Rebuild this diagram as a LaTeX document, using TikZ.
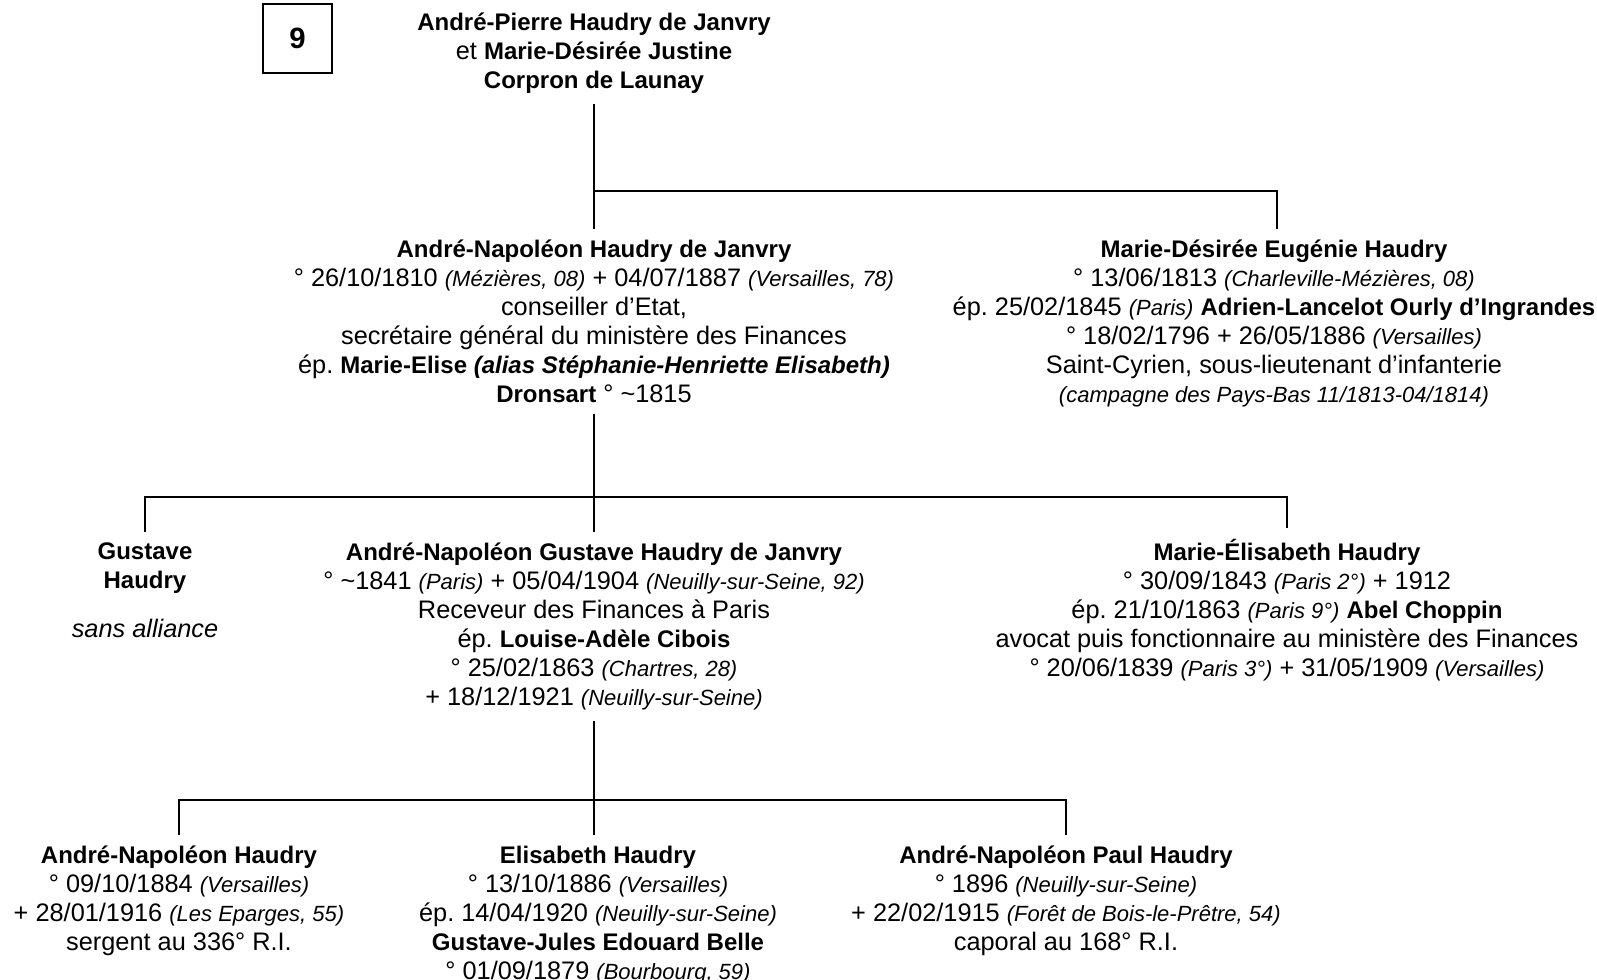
\documentclass[tikz,border=0pt]{standalone}
\usepackage{fontspec}
\setmainfont{Liberation Sans}
\frenchspacing
\newcommand{\nom}[1]{{\fontsize{18}{21.75}\selectfont\bfseries #1}}
\newcommand{\lieu}[1]{{\fontsize{16.5}{21.75}\selectfont\itshape #1}}

\begin{document}
\begin{tikzpicture}[x=0.75pt,y=-0.75pt]
\tikzstyle{person} = [align=center, anchor=north, inner sep=8pt,
font=\fontsize{19}{21.75}\selectfont]
\tikzstyle{numbox} = [rectangle, draw, line width=0.8pt,
minimum size=51.75pt, inner sep=0pt, font=\fontsize{22}{26}\selectfont\bfseries]
\tikzstyle{line} = [draw, line width=1.6pt];
\useasboundingbox (0,0) rectangle (1597,980);

\node [numbox] (num) at (297.5,38.5) {\raisebox{-3pt}{9}};
% generation 1
\node [person] (pere) at (594,2) {\nom{André-Pierre Haudry de Janvry}\\
et \nom{Marie-Désirée Justine}\\
\nom{Corpron de Launay}};
% generation 2
\node [person] (fils1) at (594,229) {\nom{André-Napoléon Haudry de Janvry}\\
° 26/10/1810 \lieu{(Mézières, 08)} + 04/07/1887 \lieu{(Versailles, 78)}\\
conseiller d’Etat,\\
secrétaire général du ministère des Finances\\
ép. \nom{Marie-Elise \textit{(alias Stéphanie-Henriette Elisabeth)}}\\
\nom{Dronsart} ° \textasciitilde1815};
\node [person] (soeur) at (1274,229) {\nom{Marie-Désirée Eugénie Haudry}\\
° 13/06/1813 \lieu{(Charleville-Mézières, 08)}\\
ép. 25/02/1845 \lieu{(Paris)} \nom{Adrien-Lancelot Ourly d’Ingrandes}\\
° 18/02/1796 + 26/05/1886 \lieu{(Versailles)}\\
Saint-Cyrien, sous-lieutenant d’infanterie\\
\lieu{(campagne des Pays-Bas 11/1813-04/1814)}};
% generation 3
\node [person] (gustave) at (145,532) {\nom{Gustave}\\
\nom{Haudry}\\[15pt]
\textit{sans alliance}};
\node [person] (fils2) at (594,532) {\nom{André-Napoléon Gustave Haudry de Janvry}\\
° \textasciitilde1841 \lieu{(Paris)} + 05/04/1904 \lieu{(Neuilly-sur-Seine, 92)}\\
Receveur des Finances à Paris\\
ép. \nom{Louise-Adèle Cibois}\\
° 25/02/1863 \lieu{(Chartres, 28)}\\
+ 18/12/1921 \lieu{(Neuilly-sur-Seine)}};
\node [person] (melisa) at (1287,528) {\nom{Marie-Élisabeth Haudry}\\
° 30/09/1843 \lieu{(Paris 2°)} + 1912\\
ép. 21/10/1863 \lieu{(Paris 9°)} \nom{Abel Choppin}\\
avocat puis fonctionnaire au ministère des Finances\\
° 20/06/1839 \lieu{(Paris 3°)} + 31/05/1909 \lieu{(Versailles)}};
% generation 4
\node [person] (andre) at (179,835) {\nom{André-Napoléon Haudry}\\
° 09/10/1884 \lieu{(Versailles)}\\
+ 28/01/1916 \lieu{(Les Eparges, 55)}\\
sergent au 336° R.I.};
\node [person] (elisabeth) at (598,835) {\nom{Elisabeth Haudry}\\
° 13/10/1886 \lieu{(Versailles)}\\
ép. 14/04/1920 \lieu{(Neuilly-sur-Seine)}\\
\nom{Gustave-Jules Edouard Belle}\\
° 01/09/1879 \lieu{(Bourbourg, 59)}};
\node [person] (paul) at (1066,835) {\nom{André-Napoléon Paul Haudry}\\
° 1896 \lieu{(Neuilly-sur-Seine)}\\
+ 22/02/1915 \lieu{(Forêt de Bois-le-Prêtre, 54)}\\
caporal au 168° R.I.};

\coordinate (b1) at (594,191);
\coordinate (b2) at (594,497);
\coordinate (b3) at (594,800);

\tikzstyle{every path}=[line]
\path (pere.south) -- (fils1.north);
\path (b1) -| ([xshift=2.5pt]soeur.north);
\path (fils1.south) -- (fils2.north);
\path (gustave.north) |- (b2) -| (melisa.north);
\path (fils2.south) -- (fils2.south |- elisabeth.north);
\path (andre.north) |- (b3) -| (paul.north);
\end{tikzpicture}
\end{document}
